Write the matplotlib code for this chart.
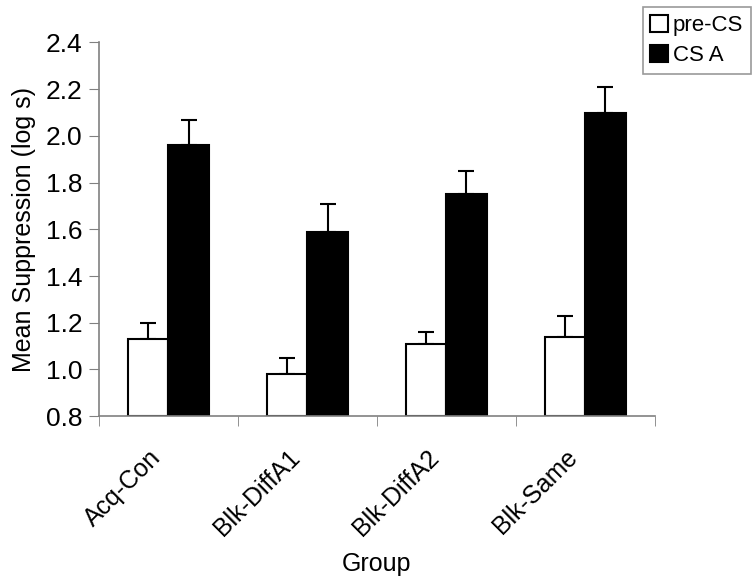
import numpy as np
import matplotlib
matplotlib.use("Agg")
from matplotlib import pyplot as plt
from matplotlib.transforms import ScaledTranslation

groups = ["Acq-Con", "Blk-DiffA1", "Blk-DiffA2", "Blk-Same"]
pre_cs = [1.13, 0.98, 1.11, 1.14]
pre_cs_err = [0.07, 0.07, 0.05, 0.09]
cs_a = [1.96, 1.59, 1.75, 2.10]
cs_a_err = [0.11, 0.12, 0.10, 0.11]
yticks = [0.8, 1.0, 1.2, 1.4, 1.6, 1.8, 2.0, 2.2, 2.4]

plt.rcParams['font.family'] = ['Liberation Sans', 'DejaVu Sans']

fig = plt.figure(figsize=(7.56, 5.82), dpi=100)
ax = fig.add_axes([0.131, 0.285, 0.735, 0.642])

x = np.arange(len(groups))
w = 0.29
base = 0.8
ax.bar(x - w / 2, np.array(pre_cs) - base, w, bottom=base, color='white',
       edgecolor='black', linewidth=1.5, label='pre-CS', zorder=2)
ax.bar(x + w / 2, np.array(cs_a) - base, w, bottom=base, color='black',
       edgecolor='black', linewidth=1.5, label='CS A', zorder=2)
ax.errorbar(x - w / 2, pre_cs, yerr=[np.zeros(4), pre_cs_err], fmt='none',
            ecolor='black', elinewidth=1.5, capsize=6, capthick=1.5, zorder=1)
ax.errorbar(x + w / 2, cs_a, yerr=[np.zeros(4), cs_a_err], fmt='none',
            ecolor='black', elinewidth=1.5, capsize=6, capthick=1.5, zorder=1)

ax.set_xlim(-0.5, len(groups) - 0.5)
ax.set_ylim(0.8, 2.4)
ax.set_yticks(yticks)
ax.set_yticklabels([f"{v:.1f}" for v in yticks], fontsize=19)

# labels at the centres (major), tick marks at the boundaries (minor)
ax.set_xticks(x)
ax.set_xticklabels(groups, rotation=45, ha='right',
                   rotation_mode='anchor', fontsize=18)
ax.set_xticks(np.arange(len(groups) + 1) - 0.5, minor=True)
ax.tick_params(axis='x', which='major', length=0, pad=21)
ax.tick_params(axis='x', which='minor', length=7, color='#808080', direction='out')
ax.tick_params(axis='y', length=7, color='#808080', direction='out', pad=5)
# nudge the slanted labels left (after tick_params, which resets transforms)
shift = ScaledTranslation(-20 / 100, 0, fig.dpi_scale_trans)
for lab in ax.get_xticklabels():
    lab.set_transform(lab.get_transform() + shift)

for s in ['top', 'right']:
    ax.spines[s].set_visible(False)
for s in ['left', 'bottom']:
    ax.spines[s].set_color('#808080')
    ax.spines[s].set_linewidth(1.2)

ax.set_ylabel("Mean Suppression (log s)", fontsize=18, labelpad=7)
ax.set_xlabel("Group", fontsize=18, labelpad=8)

leg = fig.legend(loc='upper right', bbox_to_anchor=(0.993, 0.988), fontsize=16,
                 frameon=True, fancybox=False, edgecolor='#808080',
                 handlelength=0.8, handleheight=0.8, handletextpad=0.2,
                 borderpad=0.35, labelspacing=0.4, borderaxespad=0)
leg.get_frame().set_linewidth(1.2)

fig.savefig("out.png", dpi=100)
